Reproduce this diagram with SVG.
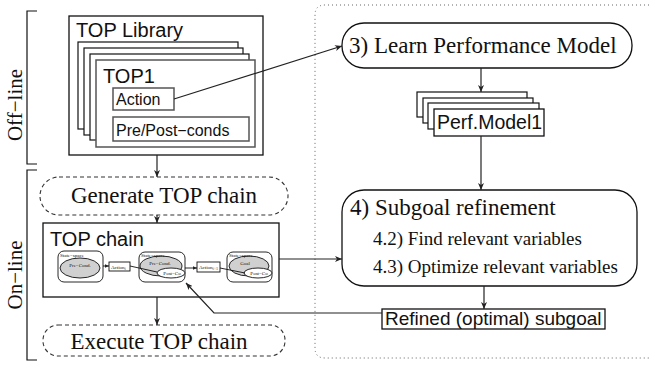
<svg xmlns="http://www.w3.org/2000/svg" width="649" height="367" viewBox="0 0 649 367">
<defs>
<marker id="ah" markerWidth="8" markerHeight="6" refX="7" refY="3" orient="auto" markerUnits="userSpaceOnUse">
<path d="M0,0 L7,3 L0,6 L2,3 z" fill="#222"/>
</marker>
<marker id="ahs" markerWidth="5" markerHeight="4" refX="4.5" refY="2" orient="auto" markerUnits="userSpaceOnUse">
<path d="M0,0 L4.5,2 L0,4 z" fill="#222"/>
</marker>
<style>
.box{fill:#fff;stroke:#111;stroke-width:1.3}
.card{fill:#fff;stroke:#111;stroke-width:1.2}
.gcard{fill:#fff;stroke:#555;stroke-width:1.5}
.dash{fill:#fff;stroke:#333;stroke-width:1.1;stroke-dasharray:4,3}
.sans{font-family:"Liberation Sans",Arial,sans-serif;fill:#111}
.serif{font-family:"Liberation Serif","Times New Roman",serif;fill:#111}
.conn{fill:none;stroke:#222;stroke-width:1.2}
.thin{fill:none;stroke:#111;stroke-width:0.9}
.ell{fill:#d0d0d0;stroke:#111;stroke-width:0.9}
.well{fill:#fff;stroke:#111;stroke-width:0.9}
.tiny{font-family:"Liberation Serif","Times New Roman",serif;fill:#111;font-size:5px}
</style>
</defs>
<rect width="649" height="367" fill="#fff"/>

<g id="region-frame">
<path d="M649,5 H325 Q315,5 315,15 V348 Q315,358 325,358 H649" fill="none" stroke="#666" stroke-width="1" stroke-dasharray="1,3"/>
</g>

<g id="offline-bracket">
<path d="M37,11 H27 V164 H37" fill="none" stroke="#111" stroke-width="1.2"/>
<text class="serif" font-size="21" transform="translate(22,105) rotate(-90)" text-anchor="middle">Off−line</text>
</g>
<g id="online-bracket">
<path d="M37,170 H27 V360 H37" fill="none" stroke="#111" stroke-width="1.2"/>
<text class="serif" font-size="21" transform="translate(22,275) rotate(-90)" text-anchor="middle">On−line</text>
</g>

<g id="top-library">
<rect class="box" x="69" y="16" width="194" height="139"/>
<text class="sans" x="76" y="37" font-size="20">TOP Library</text>
<rect class="card" x="78" y="42" width="160" height="87"/>
<rect class="card" x="84" y="48" width="159" height="87"/>
<rect class="card" x="90" y="54" width="159" height="86"/>
<rect class="gcard" x="96" y="60" width="159" height="87"/>
<text class="sans" x="103" y="83" font-size="20">TOP1</text>
</g>
<g id="action">
<rect class="gcard" x="113" y="88" width="61" height="22"/>
<text class="sans" x="116" y="105" font-size="16">Action</text>
</g>
<g id="prepost">
<rect class="gcard" x="113" y="117" width="136" height="24"/>
<text class="sans" x="116" y="136" font-size="16">Pre/Post−conds</text>
</g>

<g id="generate">
<rect class="dash" x="40" y="177" width="248" height="38" rx="19"/>
<text class="serif" x="164" y="203" font-size="23" text-anchor="middle">Generate TOP chain</text>
</g>

<g id="top-chain">
<rect class="box" x="43" y="223" width="236" height="74"/>
<text class="sans" x="50" y="246" font-size="20">TOP chain</text>
</g>
<g id="ss1">
<rect class="thin" x="58" y="251" width="45" height="31" rx="6"/>
<ellipse class="ell" cx="80" cy="268" rx="20" ry="10"/>
<text class="tiny" x="60" y="257">State−space</text>
<text class="tiny" x="80" y="267" text-anchor="middle" font-size="5.5">Pre−Cond.</text>
</g>
<g id="action-i">
<rect class="thin" x="109" y="262" width="21" height="9" fill="#fff"/>
<text class="tiny" x="111" y="269" font-size="5.5">Action<tspan font-size="4" dy="1">i</tspan></text>
</g>
<g id="ss2">
<rect class="thin" x="139" y="252" width="46" height="30" rx="6"/>
<ellipse class="ell" cx="161" cy="266" rx="21" ry="10"/>
<ellipse class="well" cx="171" cy="273" rx="14" ry="5"/>
<text class="tiny" x="141" y="257">State−space</text>
<text class="tiny" x="160" y="265" text-anchor="middle" font-size="5.5">Pre−Cond.</text>
<text class="tiny" x="172" y="275" text-anchor="middle" font-size="5.5">Post−Co</text>
</g>
<g id="action-i1">
<rect class="thin" x="197" y="262" width="23" height="10" fill="#fff"/>
<text class="tiny" x="199" y="269" font-size="5.5">Action<tspan font-size="4" dy="1">i+1</tspan></text>
</g>
<g id="ss3">
<rect class="thin" x="227" y="252" width="45" height="30" rx="6"/>
<ellipse class="ell" cx="249" cy="266" rx="20" ry="10"/>
<ellipse class="well" cx="258" cy="273" rx="14" ry="5"/>
<text class="tiny" x="229" y="257">State−space</text>
<text class="tiny" x="245" y="265" text-anchor="middle" font-size="5.5">Goal</text>
<text class="tiny" x="259" y="275" text-anchor="middle" font-size="5.5">Post−Co</text>
</g>

<g id="execute">
<rect class="dash" x="43" y="325" width="242" height="31" rx="15"/>
<text class="serif" x="159" y="349" font-size="23" text-anchor="middle">Execute TOP chain</text>
</g>

<g id="learn">
<rect class="box" x="342" y="23" width="290" height="45" rx="22"/>
<text class="serif" x="349" y="53" font-size="23">3) Learn Performance Model</text>
</g>

<g id="perf-model">
<rect class="card" x="417" y="92" width="110" height="25"/>
<rect class="card" x="423" y="98" width="110" height="25"/>
<rect class="card" x="428" y="103" width="111" height="26"/>
<rect class="box" x="434" y="109" width="110" height="27"/>
<text class="sans" x="437" y="129" font-size="19.5">Perf.Model1</text>
</g>

<g id="subgoal">
<rect class="box" x="342" y="190" width="295" height="96" rx="22"/>
<text class="serif" x="350" y="215" font-size="23">4) Subgoal refinement</text>
<text class="serif" x="373" y="245" font-size="19">4.2) Find relevant variables</text>
<text class="serif" x="373" y="273" font-size="19">4.3) Optimize relevant variables</text>
</g>

<g id="refined">
<rect class="box" x="382" y="309" width="223" height="20"/>
<text class="sans" x="385" y="325" font-size="19">Refined (optimal) subgoal</text>
</g>

<g id="connectors">
<line class="conn" x1="157" y1="155" x2="157" y2="177" marker-end="url(#ah)"/>
<line class="conn" x1="157" y1="215" x2="157" y2="223" marker-end="url(#ah)"/>
<line class="conn" x1="157" y1="297" x2="157" y2="325" marker-end="url(#ah)"/>
<line class="conn" x1="174" y1="99" x2="342" y2="46" marker-end="url(#ah)"/>
<line class="conn" x1="481" y1="68" x2="481" y2="92" marker-end="url(#ah)"/>
<line class="conn" x1="481" y1="136" x2="481" y2="190" marker-end="url(#ah)"/>
<line class="conn" x1="279" y1="259" x2="342" y2="259" marker-end="url(#ah)"/>
<line class="conn" x1="484" y1="286" x2="484" y2="309" marker-end="url(#ah)"/>
<path class="conn" d="M382,313 H214 L186,283" marker-end="url(#ah)"/>
<line class="thin" x1="103" y1="266" x2="109" y2="266" marker-end="url(#ahs)"/>
<line class="thin" x1="130" y1="266" x2="157" y2="272"/>
<line class="thin" x1="185" y1="268" x2="197" y2="268" marker-end="url(#ahs)"/>
<line class="thin" x1="220" y1="268" x2="245" y2="273"/>
</g>
</svg>
